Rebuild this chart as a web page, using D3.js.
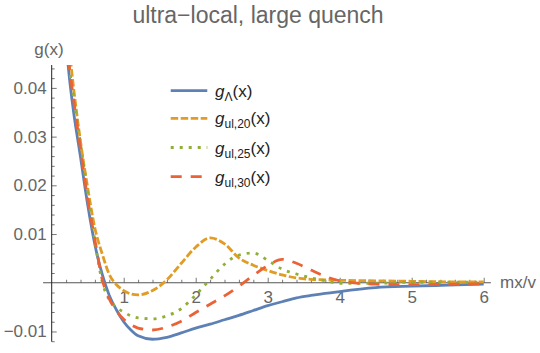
<!DOCTYPE html>
<html>
<head>
<meta charset="utf-8">
<script src="https://cdn.jsdelivr.net/npm/d3@7"></script>
<style>
  body { margin: 0; background: #fff; }
  svg text { font-family: "Liberation Sans", Arial, sans-serif; fill: #666; }
</style>
</head>
<body>
<div id="chart"></div>
<script>

// x grid (mx/v) shared by all curves
var xs = [0.2, 0.25, 0.3, 0.4, 0.5, 0.6, 0.7, 0.8, 0.9, 1.0, 1.1, 1.2, 1.4, 1.6, 1.8,
          2.0, 2.2, 2.4, 2.6, 2.8, 3.0, 3.2, 3.4, 3.6, 3.8, 4.0, 4.5, 5.0, 5.5, 6.0];

// g_Lambda(x)
var gLambda = [0.049, 0.0415, 0.0355, 0.0258, 0.016, 0.0078, 0.0018, -0.0026, -0.0056, -0.008,
               -0.0097, -0.0109, -0.0116, -0.0112, -0.0103, -0.0093, -0.0085, -0.0076, -0.0067, -0.0057,
               -0.0047, -0.0039, -0.0031, -0.0026, -0.0022, -0.0018, -0.001, -0.0007, -0.0005, -0.0003];

// g_ul,20(x)
var gUl20 = [0.052, 0.047, 0.0405, 0.029, 0.0195, 0.0112, 0.006, 0.0017, -0.0004, -0.0016,
             -0.0023, -0.0025, -0.0016, 0.0006, 0.004, 0.0073, 0.0092, 0.008, 0.0051, 0.0036,
             0.0025, 0.0016, 0.001, 0.0007, 0.0006, 0.0005, 0.0004, 0.0003, 0.0002, 0.0002];

// g_ul,25(x)
var gUl25 = [0.05, 0.0435, 0.0385, 0.0285, 0.0185, 0.0085, 0.0003, -0.0035, -0.0051, -0.006,
             -0.0068, -0.0072, -0.0074, -0.0068, -0.0053, -0.0025, 0.0007, 0.0038, 0.0057, 0.0061,
             0.0046, 0.0028, 0.0018, 0.001, 0.0004, -0.0001, -0.0001, 0.0001, 0.0001, 0.0001];

// g_ul,30(x)
var gUl30 = [0.05, 0.0438, 0.038, 0.0275, 0.0172, 0.0088, 0.0008, -0.0033, -0.0058, -0.0075,
             -0.0086, -0.0093, -0.0097, -0.0091, -0.0079, -0.0061, -0.0044, -0.0027, -0.0007, 0.0015,
             0.0035, 0.0048, 0.004, 0.0026, 0.0013, 0.0004, -0.0003, -0.0004, -0.0003, -0.0002];

var xTicks = [1, 2, 3, 4, 5, 6];
var xTickLabels = ["1", "2", "3", "4", "5", "6"];
var yTicks = [-0.01, 0.01, 0.02, 0.03, 0.04];
var yTickLabels = ["\u22120.01", "0.01", "0.02", "0.03", "0.04"];

var seriesNames = ["\u039b", "ul,20", "ul,25", "ul,30"];
var seriesColors = ["#5e81b5", "#e19c24", "#8fb032", "#eb6235"];
var seriesDashes = [null, "7.5,2.5", "3,6", "11,9"];
var seriesValues = [gLambda, gUl20, gUl25, gUl30];

var width = 540,
    height = 353;

// scales, plot range a little wider than the tick range like Mathematica does
var x = d3.scaleLinear()
          .domain([0, 6])
          .range([51.7, 483.7]);

var y = d3.scaleLinear()
          .domain([-0.0121, 0.0447])
          .range([341.7, 65]);

var svg = d3.select("#chart")
            .append("svg")
            .attr("width", width)
            .attr("height", height);

// clip so the curves stop at the top of the frame
svg.append("clipPath")
   .attr("id", "plot-clip")
   .append("rect")
   .attr("x", x(-0.12))
   .attr("y", y(0.0447))
   .attr("width", x(6.12) - x(-0.12))
   .attr("height", y(-0.0121) - y(0.0447));

// minor ticks first (no labels)
var xMinor = d3.range(0.2, 6.01, 0.2).filter(function(d) {
  return Math.abs(d - Math.round(d)) > 0.01;
});
var yMinor = d3.range(-0.012, 0.0441, 0.002).filter(function(d) {
  return Math.abs(d * 100 - Math.round(d * 100)) > 0.01;
});

svg.append("g")
   .attr("class", "x-minor")
   .attr("transform", "translate(0," + y(0) + ")")
   .call(d3.axisBottom(x).tickValues(xMinor).tickSize(-3).tickFormat(""))
   .call(function(g) { g.select(".domain").remove(); });

svg.append("g")
   .attr("class", "y-minor")
   .attr("transform", "translate(" + x(0) + ",0)")
   .call(d3.axisLeft(y).tickValues(yMinor).tickSize(-3).tickFormat(""))
   .call(function(g) { g.select(".domain").remove(); });

// major ticks with labels
var xAxis = svg.append("g")
   .attr("class", "x-axis")
   .attr("transform", "translate(0," + y(0) + ")")
   .call(d3.axisBottom(x).tickValues(xTicks).tickSizeInner(-5).tickSizeOuter(0).tickPadding(8.6)
           .tickFormat(function(d, i) { return xTickLabels[i]; }));

var yAxis = svg.append("g")
   .attr("class", "y-axis")
   .attr("transform", "translate(" + x(0) + ",0)")
   .call(d3.axisLeft(y).tickValues(yTicks).tickSizeInner(-5).tickSizeOuter(0).tickPadding(5)
           .tickFormat(function(d, i) { return yTickLabels[i]; }));

svg.selectAll(".tick line").attr("stroke", "#777");
svg.selectAll(".tick text")
   .attr("font-size", 17)
   .attr("fill", "#666")
   .style("font-family", "Liberation Sans, Arial, sans-serif");

// axis lines over the full plot range
xAxis.select(".domain").remove();
yAxis.select(".domain").remove();

svg.append("line")
   .attr("x1", x(-0.12)).attr("x2", x(6.1))
   .attr("y1", y(0)).attr("y2", y(0))
   .attr("stroke", "#555")
   .attr("stroke-width", 1.2);

svg.append("line")
   .attr("x1", x(0)).attr("x2", x(0))
   .attr("y1", y(0.0447)).attr("y2", y(-0.0121))
   .attr("stroke", "#222")
   .attr("stroke-width", 1);

// curves
var line = d3.line()
             .x(function(d) { return x(d[0]); })
             .y(function(d) { return y(d[1]); })
             .curve(d3.curveMonotoneX);

var plot = svg.append("g").attr("clip-path", "url(#plot-clip)");

// draw back to front so blue ends up beneath
[0, 1, 2, 3].forEach(function(i) {
  var pts = xs.map(function(v, j) { return [v, seriesValues[i][j]]; });
  plot.append("path")
      .attr("d", line(pts))
      .attr("fill", "none")
      .attr("stroke", seriesColors[i])
      .attr("stroke-width", 2.8)
      .attr("stroke-dasharray", seriesDashes[i]);
});

// title and axis labels
svg.append("text")
   .attr("x", 258)
   .attr("y", 23)
   .attr("text-anchor", "middle")
   .attr("font-size", 23)
   .text("ultra\u2212local, large quench");

svg.append("text")
   .attr("x", 49)
   .attr("y", 55)
   .attr("text-anchor", "middle")
   .attr("font-size", 17)
   .text("g(x)");

svg.append("text")
   .attr("x", 500)
   .attr("y", 287.5)
   .attr("font-size", 17)
   .text("mx/v");

// legend
var legendRows = [90.7, 118.3, 147.5, 176.7];

var legend = svg.append("g").attr("class", "legend");

seriesNames.forEach(function(name, i) {
  legend.append("line")
        .attr("x1", 170.7).attr("x2", 207.3)
        .attr("y1", legendRows[i]).attr("y2", legendRows[i])
        .attr("stroke", seriesColors[i])
        .attr("stroke-width", 2.8)
        .attr("stroke-dasharray", seriesDashes[i]);

  var t = legend.append("text")
                .attr("x", 215)
                .attr("y", legendRows[i] + 6)
                .attr("font-size", 17)
                .attr("fill", "#222");
  t.append("tspan").attr("font-style", "italic").attr("fill", "#222").text("g");
  t.append("tspan").attr("font-size", 12).attr("dy", 4).attr("fill", "#222").text(name);
  t.append("tspan").attr("dy", -4).attr("fill", "#222").text("(x)");
});

</script>
</body>
</html>
